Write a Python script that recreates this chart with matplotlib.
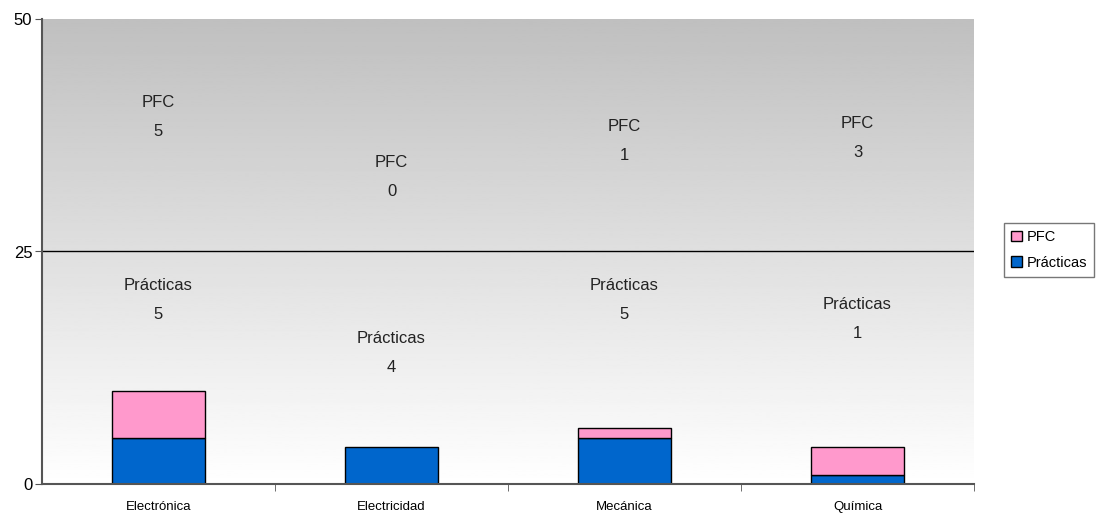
import matplotlib
matplotlib.use("Agg")
import matplotlib.pyplot as plt
import numpy as np
from matplotlib.patches import Patch

categories = ["Electrónica", "Electricidad", "Mecánica", "Química"]
practicas = [5, 4, 5, 1]
pfc = [5, 0, 1, 3]
series_names = ["Prácticas", "PFC"]
yticks = [0, 25, 50]
# label positions (data y)
lab_pr_y = [19.8, 14.1, 19.8, 17.7]
lab_pfc_y = [39.5, 33.0, 36.9, 37.2]

plt.rcParams['font.family'] = ['Liberation Sans Narrow', 'Liberation Sans', 'DejaVu Sans']

fig = plt.figure(figsize=(10.97, 5.17), dpi=100)
ax = fig.add_axes([42/1097, 33/517, 932/1097, 465/517])

x = np.arange(len(categories))
ax.set_xlim(-0.5, len(categories) - 0.5)
ax.set_ylim(0, 50)

grad = np.linspace(1.0, 0.75, 256).reshape(-1, 1)
ax.imshow(grad, extent=(-0.5, len(categories) - 0.5, 0, 50), origin='lower',
          aspect='auto', cmap='gray', vmin=0, vmax=1, zorder=0)

ax.axhline(25, color='black', lw=1, zorder=1)

w = 0.4
c_pr = '#0066cc'
c_pfc = '#ff99cc'
ax.bar(x, practicas, w, color=c_pr, edgecolor='black', lw=1, zorder=2)
for i in range(len(categories)):
    if pfc[i] > 0:
        ax.bar(x[i], pfc[i], w, bottom=practicas[i], color=c_pfc, edgecolor='black', lw=1, zorder=2)

for i in range(len(categories)):
    ax.text(x[i], lab_pr_y[i], f"Prácticas\n{practicas[i]}", ha='center', va='center',
            fontsize=12, linespacing=2.15, color='#222222')
    ax.text(x[i], lab_pfc_y[i], f"PFC\n{pfc[i]}", ha='center', va='center',
            fontsize=12, linespacing=2.15, color='#222222')

ax.set_yticks(yticks)
ax.set_yticklabels([str(t) for t in yticks], fontsize=12)
ax.set_xticks(x)
ax.set_xticklabels(categories, fontsize=9.5)
ax.tick_params(axis='x', length=0, pad=12)
ax.set_xticks(np.arange(0.5, len(categories) - 0.5 + 1e-9, 1.0), minor=True)
ax.tick_params(axis='x', which='minor', length=5, color='#555555')
ax.tick_params(axis='y', length=5, color='#555555', pad=2)

for s in ['top', 'right']:
    ax.spines[s].set_visible(False)
ax.spines['left'].set_color('#555555')
ax.spines['bottom'].set_color('#555555')
ax.spines['left'].set_linewidth(1.5)
ax.spines['bottom'].set_linewidth(1.5)

handles = [Patch(facecolor=c_pfc, edgecolor='black', label='PFC'),
           Patch(facecolor=c_pr, edgecolor='black', label='Prácticas')]
leg = fig.legend(handles=handles, loc='center left', bbox_to_anchor=(1004/1097, 1 - 250/517),
                 fontsize=10.5, frameon=True, fancybox=False, handlelength=0.75, handleheight=0.75,
                 handletextpad=0.3, borderpad=0.5, labelspacing=0.8, borderaxespad=0)
leg.get_frame().set_edgecolor('#555555')
leg.get_frame().set_linewidth(1)

fig.savefig('out.png', dpi=100)
